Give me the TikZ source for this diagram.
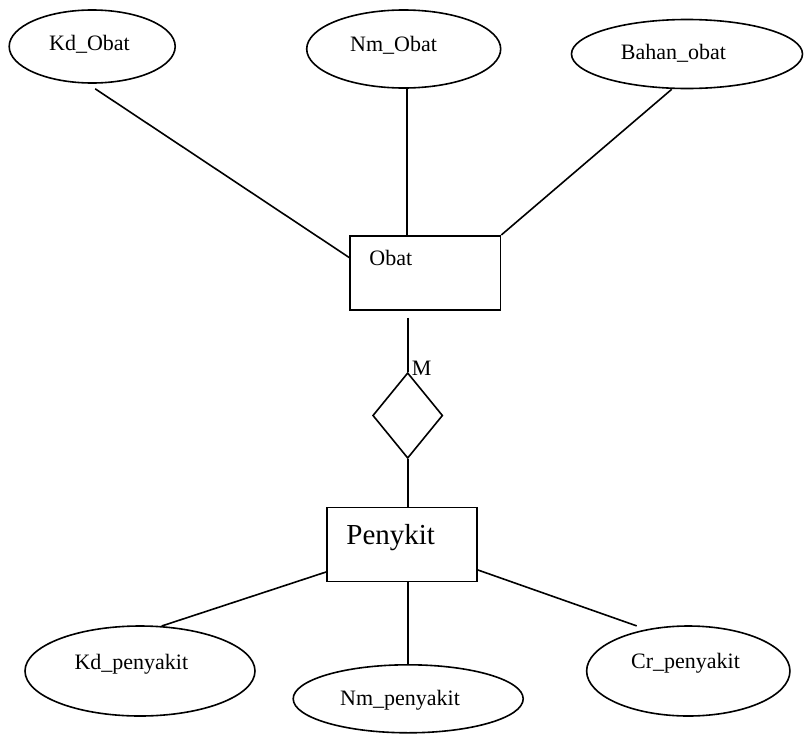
\documentclass[tikz,border=0pt]{standalone}
\usepackage{fontspec}
\setmainfont{Liberation Serif}
\usetikzlibrary{shapes.geometric,calc}

\tikzset{
  er/.style={line width=1.6pt, black},
  attr/.style={er, draw, ellipse, inner sep=0pt},
  entity/.style={er, draw, rectangle, inner sep=0pt, minimum width=150.5pt, minimum height=74.3pt},
  relation/.style={er, draw, diamond, inner sep=0pt, aspect=0.82, minimum width=70pt, minimum height=85.6pt},
  lbl/.style={inner sep=0pt, anchor=base west, font=\fontsize{22}{26}\selectfont},
  biglbl/.style={inner sep=0pt, anchor=base west, font=\fontsize{29}{34}\selectfont},
  link/.style={er, line cap=butt}
}

\begin{document}
\begin{tikzpicture}[x=1pt, y=-1pt]
\useasboundingbox (0,0) rectangle (804,734);

% attributes of Obat
\node[attr, minimum width=166pt, minimum height=73pt] (kdobat) at (92.2,46.5) {};
\node[attr, minimum width=194pt, minimum height=78pt] (nmobat) at (403.7,49) {};
\node[attr, minimum width=231pt, minimum height=69pt] (bahan)  at (687,54) {};
\node[lbl] (tkdobat) at (49,50) {Kd\_Obat};
\node[lbl] (tnmobat) at (350,51) {Nm\_Obat};
\node[lbl] (tbahan)  at (620.7,59.3) {Bahan\_obat};

% entities and relationship
\node[entity] (obat) at (425.3,272.9) {};
\node[lbl] (tobat) at ($(obat.north west)+(20,31)$) {Obat};
\node[relation] (rel) at (407.7,415.5) {};
\node[lbl] (mult) at (411.7,375) {M};
\node[entity, minimum width=150pt] (penykit) at (402,544.5) {};
\node[biglbl] (tpenykit) at ($(penykit.north west)+(20,38.4)$) {Penykit};

% attributes of Penykit
\node[attr, minimum width=230pt, minimum height=90pt] (kdpeny) at (140,671) {};
\node[attr, minimum width=230pt, minimum height=68pt] (nmpeny) at (408.2,698.8) {};
\node[attr, minimum width=203.3pt, minimum height=90pt] (crpeny) at (688.3,671) {};
\node[lbl] (tkdpeny) at (74.3,669.3) {Kd\_penyakit};
\node[lbl] (tnmpeny) at (340,705) {Nm\_penyakit};
\node[lbl] (tcrpeny) at (631,668) {Cr\_penyakit};

% connectors
\draw[link] ($(kdobat.south)+(3,5)$) -- ($(obat.north west)+(0,22.6)$);
\draw[link] ($(nmobat.south)+(3.5,0)$) coordinate (nmfoot) -- (nmfoot |- obat.north);
\draw[link] ($(bahan.south)+(-15.3,0)$) -- (obat.north east);
\draw[link] (rel.north |- obat.south) ++(0,7) -- (rel.north);
\draw[link] (rel.south) -- (rel.south |- penykit.north);
\draw[link] ($(penykit.north west)+(0,65.4)$) -- ($(kdpeny.north)+(21.7,0.8)$);
\draw[link] (nmpeny.north |- penykit.south) -- (nmpeny.north);
\draw[link] ($(penykit.north east)+(0,63.4)$) -- ($(crpeny.north)+(-51.6,0.7)$);
\end{tikzpicture}
\end{document}
